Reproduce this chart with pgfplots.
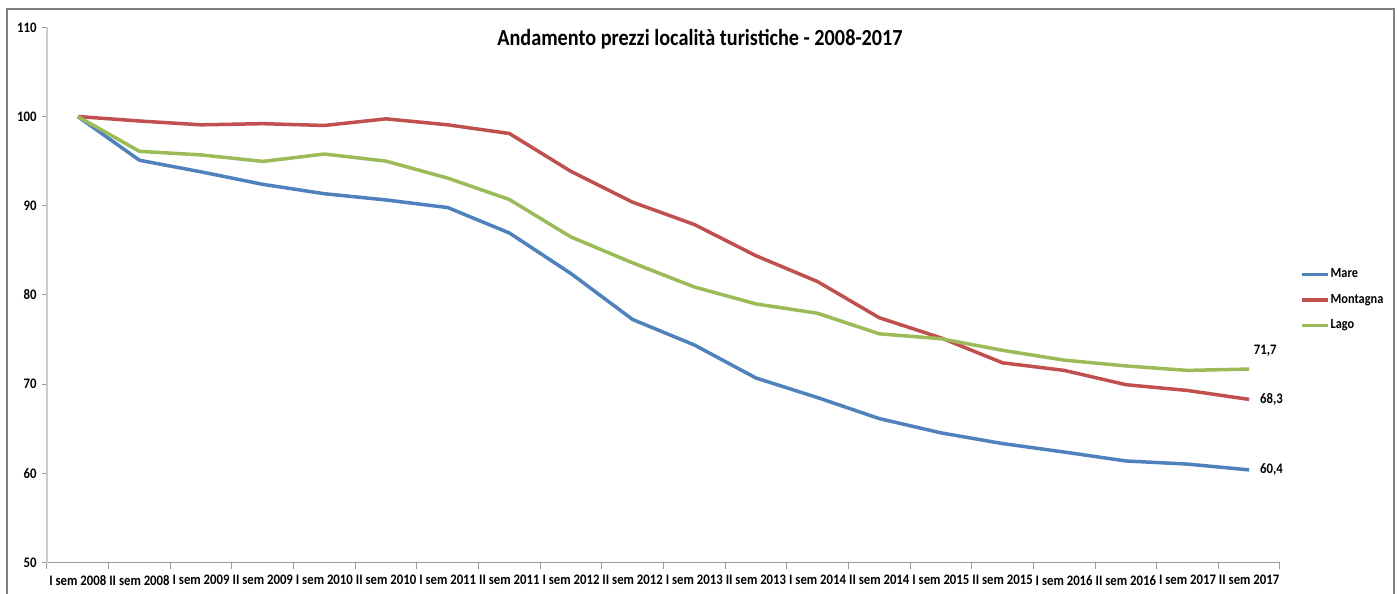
\documentclass[border=0pt]{standalone}
\usepackage{fontspec}
\setmainfont{Carlito}[FakeStretch=0.88]
\usepackage{pgfplots}
\pgfplotsset{compat=1.18}
\definecolor{mare}{HTML}{4F81BD}
\definecolor{mont}{HTML}{C0504D}
\definecolor{lago}{HTML}{9BBB59}
\begin{document}
\begin{tikzpicture}[x=1pt,y=1pt]
\useasboundingbox (0,0) rectangle (1398,594);
\draw[color=black!50, line width=2pt] (7,-20) -- (7,585) -- (1394,585) -- (1394,-20);
\begin{axis}[
  at={(47pt,31.3pt)}, anchor=south west,
  scale only axis, width=1233pt, height=535.4pt,
  xmin=-0.5, xmax=19.5, ymin=50, ymax=110,
  ytick={50,60,...,110},
  xtick={0,...,19},
  xticklabels={I sem 2008,II sem 2008,I sem 2009,II sem 2009,I sem 2010,II sem 2010,I sem 2011,II sem 2011,I sem 2012,II sem 2012,I sem 2013,II sem 2013,I sem 2014,II sem 2014,I sem 2015,II sem 2015,I sem 2016,II sem 2016,I sem 2017,II sem 2017},
  minor xtick={-0.5,0.5,...,19.5},
  axis x line*=bottom, axis y line*=left,
  x axis line style={black!40, line width=1pt},
  y axis line style={black!20, line width=1.5pt},
  tick align=outside,
  major x tick style={draw=none},
  minor x tick style={black!40, line width=1pt},
  major y tick style={black!40, line width=1pt},
  major tick length=5pt, minor tick length=6pt,
  ticklabel style={font=\fontsize{14.5}{14.5}\selectfont\bfseries},
  xticklabel style={yshift=-4pt},
  yticklabel style={xshift=-2pt},
  /pgf/number format/assume math mode=true,
  title={Andamento prezzi località turistiche - 2008-2017},
  title style={at={(0.5296,0.967)}, anchor=center, font=\fontsize{23}{23}\selectfont\bfseries},
  legend style={at={(1.0138,0.556)}, anchor=north west, draw=none, fill=none,
    font=\fontsize{14}{14}\selectfont\bfseries, row sep=11pt,
    nodes={inner sep=1pt, text height=9.5pt, text depth=3pt}},
  legend cell align=left,
  legend image code/.code={\draw[line width=3.5pt] (0pt,0pt) -- (26pt,0pt);},
  every axis plot/.append style={line width=3.5pt, line join=round},
  clip=false,
]
\addplot[mare] coordinates {(0,100) (1,95.1) (2,93.8) (3,92.4) (4,91.35) (5,90.65) (6,89.8) (7,86.95) (8,82.4) (9,77.25) (10,74.4) (11,70.7) (12,68.5) (13,66.15) (14,64.55) (15,63.35) (16,62.4) (17,61.4) (18,61.05) (19,60.4)}
  node[pos=1, anchor=west, xshift=6pt, text=black, font=\fontsize{14.5}{14.5}\selectfont\bfseries] {60,4};
\addlegendentry{Mare}
\addplot[mont] coordinates {(0,100) (1,99.5) (2,99.07) (3,99.2) (4,99.0) (5,99.74) (6,99.07) (7,98.1) (8,93.85) (9,90.4) (10,87.9) (11,84.4) (12,81.5) (13,77.45) (14,75.2) (15,72.4) (16,71.55) (17,69.95) (18,69.3) (19,68.3)}
  node[pos=1, anchor=west, xshift=6pt, text=black, font=\fontsize{14.5}{14.5}\selectfont\bfseries] {68,3};
\addlegendentry{Montagna}
\addplot[lago] coordinates {(0,100) (1,96.1) (2,95.7) (3,94.97) (4,95.8) (5,95.0) (6,93.1) (7,90.7) (8,86.5) (9,83.6) (10,80.9) (11,79.0) (12,77.95) (13,75.65) (14,75.1) (15,73.8) (16,72.7) (17,72.05) (18,71.55) (19,71.7)}
  node[pos=1, anchor=center, xshift=16pt, yshift=18pt, text=black, font=\fontsize{14.5}{14.5}\selectfont\bfseries] {71,7};
\addlegendentry{Lago}
\end{axis}
\end{tikzpicture}
\end{document}
